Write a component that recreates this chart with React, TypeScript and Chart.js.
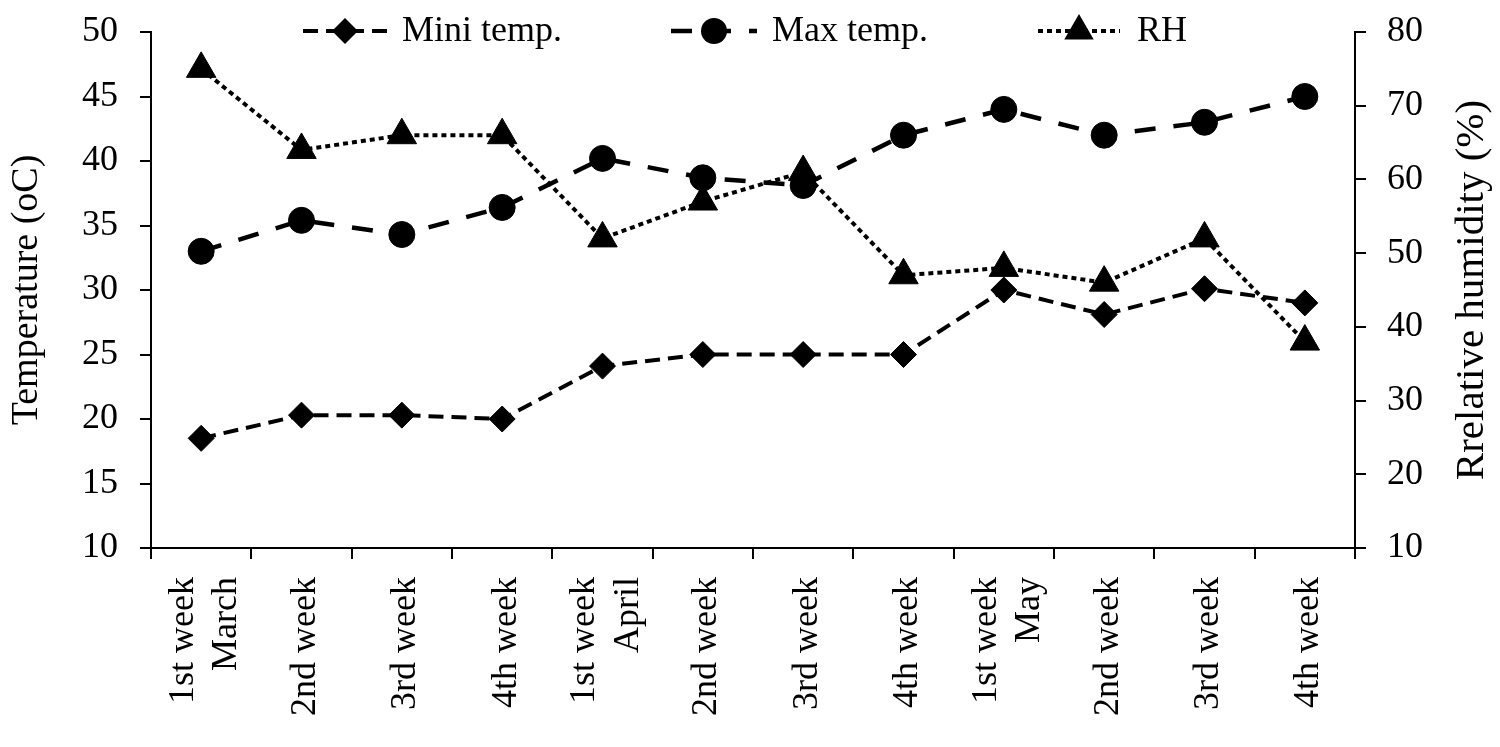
import React, { useEffect, useRef } from "react";
import { Chart, registerables } from "chart.js";

Chart.register(...registerables);

const weekLabels: (string | string[])[] = [
  ["1st week", "March"], "2nd week", "3rd week", "4th week",
  ["1st week", "April"], "2nd week", "3rd week", "4th week",
  ["1st week", "May"], "2nd week", "3rd week", "4th week",
];
const miniTemp = [18.5, 20.3, 20.3, 20.0, 24.1, 25.0, 25.0, 25.0, 30.0, 28.1, 30.1, 29.0];
const maxTemp = [33.0, 35.4, 34.3, 36.4, 40.2, 38.7, 38.1, 42.0, 44.0, 42.0, 43.0, 45.0];
const relHumidity = [75, 64, 66, 66, 52, 57, 61, 47, 48, 46, 52, 38];

const seriesNames = ["Mini temp.", "Max temp.", "RH"];
const leftTitle = "Temperature (oC)";
const rightTitle = "Rrelative humidity (%)";

const FONT = "'Liberation Serif', 'Times New Roman', serif";
const FS = 36;

function drawMarker(ctx: CanvasRenderingContext2D, style: string, x: number, y: number, r: number) {
  ctx.beginPath();
  if (style === "rectRot") {
    ctx.moveTo(x - r, y);
    ctx.lineTo(x, y - r);
    ctx.lineTo(x + r, y);
    ctx.lineTo(x, y + r);
  } else if (style === "triangle") {
    const a = (2 * Math.PI) / 3;
    ctx.moveTo(x, y - r);
    ctx.lineTo(x + Math.sin(a) * r, y - Math.cos(a) * r);
    ctx.lineTo(x + Math.sin(2 * a) * r, y - Math.cos(2 * a) * r);
  } else {
    ctx.arc(x, y, r, 0, Math.PI * 2);
  }
  ctx.closePath();
  ctx.fillStyle = "#000";
  ctx.fill();
}

const legendSlots = [
  { x0: 303, x1: 387, tx: 402 },
  { x0: 671, x1: 757, tx: 772 },
  { x0: 1038, x1: 1120, tx: 1137 },
];

const customPlugin = {
  id: "customDecor",
  afterDraw(chart: any) {
    const ctx: CanvasRenderingContext2D = chart.ctx;
    const y = 31;
    ctx.save();
    // legend
    chart.data.datasets.forEach((ds: any, i: number) => {
      const s = legendSlots[i];
      ctx.save();
      ctx.strokeStyle = "#000";
      ctx.lineWidth = ds.borderWidth;
      ctx.setLineDash(ds.borderDash || []);
      ctx.beginPath();
      ctx.moveTo(s.x0, y);
      ctx.lineTo(s.x1, y);
      ctx.stroke();
      ctx.restore();
      drawMarker(ctx, ds.pointStyle, (s.x0 + s.x1) / 2, y, ds.pointRadius);
      ctx.fillStyle = "#000";
      ctx.font = `${FS}px ${FONT}`;
      ctx.textAlign = "left";
      ctx.textBaseline = "middle";
      ctx.fillText(ds.label, s.tx, y + 1);
    });

    // x-axis category labels (rotated, multi-line blocks centred on the category)
    const xs = chart.scales.x;
    const lh = FS * 1.2;
    ctx.font = `${FS}px ${FONT}`;
    ctx.fillStyle = "#000";
    ctx.textAlign = "right";
    ctx.textBaseline = "middle";
    (chart.data.labels as any[]).forEach((lab: any, i: number) => {
      const lines: string[] = Array.isArray(lab) ? lab : [lab];
      const px = xs.getPixelForValue(i);
      lines.forEach((ln, k) => {
        const cx = px + 4 + (k - (lines.length - 1) / 2) * lh;
        ctx.save();
        ctx.translate(cx, xs.top + 11 + 18);
        ctx.rotate(-Math.PI / 2);
        ctx.fillText(ln, 0, 0);
        ctx.restore();
      });
    });

    // right axis title, reading bottom-to-top
    const area = chart.chartArea;
    ctx.translate(1472, (area.top + area.bottom) / 2);
    ctx.rotate(-Math.PI / 2);
    ctx.font = `41px ${FONT}`;
    ctx.textAlign = "center";
    ctx.textBaseline = "middle";
    ctx.fillStyle = "#000";
    ctx.fillText(rightTitle, 0, 0);
    ctx.restore();
  },
};

export default function App() {
  const canvasRef = useRef<HTMLCanvasElement | null>(null);

  useEffect(() => {
    if (!canvasRef.current) return;
    const tickFont = { family: FONT, size: FS };
    const chart = new Chart(canvasRef.current, {
      type: "line",
      data: {
        labels: weekLabels as any,
        datasets: [
          {
            label: seriesNames[0],
            data: miniTemp,
            yAxisID: "y",
            borderColor: "#000",
            borderWidth: 4,
            borderDash: [15, 8],
            pointStyle: "rectRot",
            pointRadius: 13,
            pointBackgroundColor: "#000",
            pointBorderColor: "#000",
            pointBorderWidth: 1,
            fill: false,
            tension: 0,
          },
          {
            label: seriesNames[1],
            data: maxTemp,
            yAxisID: "y",
            borderColor: "#000",
            borderWidth: 4.5,
            borderDash: [21, 18],
            pointStyle: "circle",
            pointRadius: 13,
            pointBackgroundColor: "#000",
            pointBorderColor: "#000",
            pointBorderWidth: 1,
            fill: false,
            tension: 0,
          },
          {
            label: seriesNames[2],
            data: relHumidity,
            yAxisID: "y1",
            borderColor: "#000",
            borderWidth: 4,
            borderDash: [5, 4],
            pointStyle: "triangle",
            pointRadius: 17,
            pointBackgroundColor: "#000",
            pointBorderColor: "#000",
            pointBorderWidth: 1,
            fill: false,
            tension: 0,
          },
        ],
      },
      options: {
        responsive: false,
        devicePixelRatio: 1,
        animation: false,
        layout: { padding: { top: 32, left: 0, right: 0, bottom: 0 } },
        plugins: {
          legend: { display: false },
          tooltip: { enabled: false },
        },
        scales: {
          x: {
            type: "category",
            offset: true,
            grid: {
              display: true,
              drawOnChartArea: false,
              drawTicks: true,
              tickLength: 11,
              color: "#000",
              lineWidth: 2,
              offset: true,
            },
            border: { display: true, color: "#000", width: 2 },
            ticks: { display: false, autoSkip: false },
            afterFit: (scale: any) => {
              scale.height = 199;
              scale.paddingLeft = 0;
              scale.paddingRight = 0;
            },
          },
          y: {
            position: "left",
            min: 10,
            max: 50,
            ticks: { stepSize: 5, padding: 22, color: "#000", font: tickFont },
            grid: {
              drawOnChartArea: false,
              drawTicks: true,
              tickLength: 11,
              color: "#000",
              lineWidth: 2,
            },
            border: { display: true, color: "#000", width: 2 },
            title: {
              display: true,
              text: leftTitle,
              color: "#000",
              font: { family: FONT, size: 38 },
              padding: { top: 4, bottom: 0 },
            },
            afterFit: (scale: any) => {
              scale.width = 151;
              scale.paddingTop = 0;
              scale.paddingBottom = 0;
            },
          },
          y1: {
            position: "right",
            min: 10,
            max: 80,
            ticks: { stepSize: 10, padding: 21, color: "#000", font: tickFont },
            grid: {
              drawOnChartArea: false,
              drawTicks: true,
              tickLength: 11,
              color: "#000",
              lineWidth: 2,
            },
            border: { display: true, color: "#000", width: 2 },
            afterFit: (scale: any) => {
              scale.width = 145;
              scale.paddingTop = 0;
              scale.paddingBottom = 0;
            },
          },
        },
      } as any,
      plugins: [customPlugin],
    });
    return () => chart.destroy();
  }, []);

  return (
    <div style={{ position: "absolute", left: 0, top: 0, width: 1500, height: 747, background: "#fff" }}>
      <canvas ref={canvasRef} width={1500} height={747} style={{ display: "block" }} />
    </div>
  );
}
